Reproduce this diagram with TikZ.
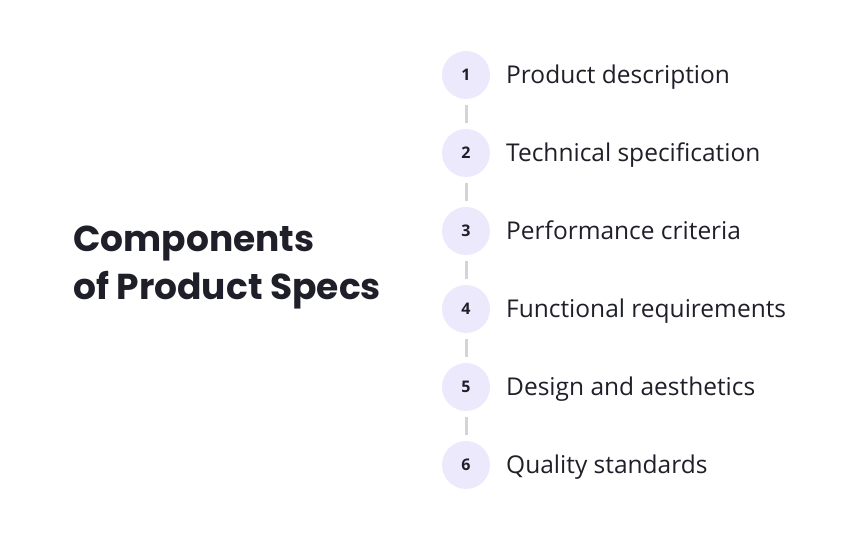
\documentclass[tikz,border=0pt]{standalone}
\usepackage{fontspec}
\setmainfont{Open Sans}
\newfontfamily\titlefont{Poppins}
\definecolor{inkdark}{HTML}{1F1F29}
\definecolor{lavender}{HTML}{EDE9FD}
\definecolor{linegray}{HTML}{D4D4D8}
\tikzset{
  numcirc/.style={circle,fill=lavender,minimum size=48pt,inner sep=0pt,
    text=inkdark,font=\fontsize{16}{16}\selectfont\bfseries},
  itemtext/.style={anchor=base west,inner sep=0pt,text=inkdark,font=\fontsize{24.5}{24.5}\selectfont},
  titletext/.style={anchor=base west,inner sep=0pt,text=inkdark,
    font=\titlefont\fontsize{36}{36}\selectfont\bfseries},
  link/.style={draw=linegray,line width=3pt,shorten >=6pt,shorten <=6pt}
}
\begin{document}
\begin{tikzpicture}[x=1pt,y=1pt]
\useasboundingbox (0,0) rectangle (864,540);
\node [titletext] (title1) at (73,288) {Components};
\node [titletext] (title2) at (73,240) {of Product Specs};

\foreach \i/\txt in {1/Product description,2/Technical specification,3/Performance criteria,
    4/Functional requirements,5/Design and aesthetics,6/Quality standards}
{
    \node [numcirc] (c\i) at (466,543-78*\i) {\i};
    \node [itemtext] (t\i) at (506,534-78*\i) {\txt};
}
\foreach \i [evaluate=\i as \j using int(\i+1)] in {1,...,5}
    \draw [link] (c\i.south) -- (c\j.north);% short gap line
\end{tikzpicture}
\end{document}
